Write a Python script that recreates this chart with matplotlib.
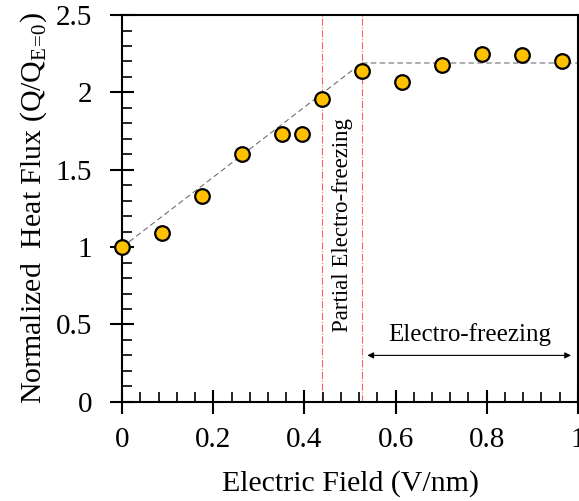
import matplotlib
matplotlib.use('Agg')
import matplotlib.pyplot as plt
from matplotlib.ticker import MultipleLocator

plt.rcParams['font.family'] = 'Liberation Serif'
plt.rcParams['mathtext.fontset'] = 'custom'
plt.rcParams['mathtext.rm'] = 'Liberation Serif'

# electric field (V/nm) and normalized heat flux
field = [0.0, 0.088, 0.175, 0.263, 0.351, 0.395, 0.438, 0.526, 0.614, 0.701, 0.789, 0.877, 0.965]
flux = [1.00, 1.09, 1.33, 1.60, 1.73, 1.73, 1.96, 2.14, 2.07, 2.18, 2.25, 2.24, 2.20]

# fitted trend: linear rise then plateau
trend_x = [0.0, 0.526, 1.0]
trend_y = [1.0, 2.19, 2.19]

# bounds of the partial electro-freezing zone
zone_lo = 0.438
zone_hi = 0.526

xticks = [0, 0.2, 0.4, 0.6, 0.8, 1.0]
xtick_labels = ['0', '0.2', '0.4', '0.6', '0.8', '1']
yticks = [0, 0.5, 1.0, 1.5, 2.0, 2.5]
ytick_labels = ['0', '0.5', '1', '1.5', '2', '2.5']

fig = plt.figure(figsize=(5.79, 5.01), dpi=100)
ax = fig.add_axes([0.211, 0.198, 0.787, 0.772])

ax.plot(trend_x, trend_y, color='#707070', lw=0.8, ls=(0, (5, 3)), zorder=2)
ax.axvline(zone_lo, color='#ff6060', lw=0.8, ls='-.', zorder=1)
ax.axvline(zone_hi, color='#ff6060', lw=0.8, ls='-.', zorder=1)
ax.plot(field, flux, 'o', ms=10.5, mfc='#ffc000', mec='black', mew=1.6, zorder=3, clip_on=False)

ax.text(0.483, 1.14, 'Partial Electro-freezing', rotation=90, ha='center', va='center', fontsize=16.5)
ax.text(0.762, 0.435, 'Electro-freezing', ha='center', va='center', fontsize=18)
ax.annotate('', xy=(0.538, 0.30), xytext=(0.985, 0.30),
            arrowprops=dict(arrowstyle='<|-|>', color='black', lw=0.8,
                            mutation_scale=9, shrinkA=0, shrinkB=0))

ax.set_xlim(0, 1)
ax.set_ylim(0, 2.5)
ax.set_xticks(xticks)
ax.set_xticklabels(xtick_labels)
ax.set_yticks(yticks)
ax.set_yticklabels(ytick_labels)
ax.xaxis.set_minor_locator(MultipleLocator(0.04))
ax.yaxis.set_minor_locator(MultipleLocator(0.1))
ax.tick_params(which='major', direction='inout', length=17, width=1.5, labelsize=21)
ax.tick_params(which='minor', direction='in', length=7, width=1.2)
ax.tick_params(axis='x', pad=10)
ax.tick_params(axis='y', pad=13)
for s in ax.spines.values():
    s.set_linewidth(1.5)

ax.set_xlabel('Electric Field (V/nm)', fontsize=21.5, labelpad=12)
ax.set_ylabel(r'Normalized  Heat Flux (Q/Q$_{\mathregular{E\!=\!0}}$)', fontsize=21.5, labelpad=5)

fig.savefig('out.png', dpi=100)
